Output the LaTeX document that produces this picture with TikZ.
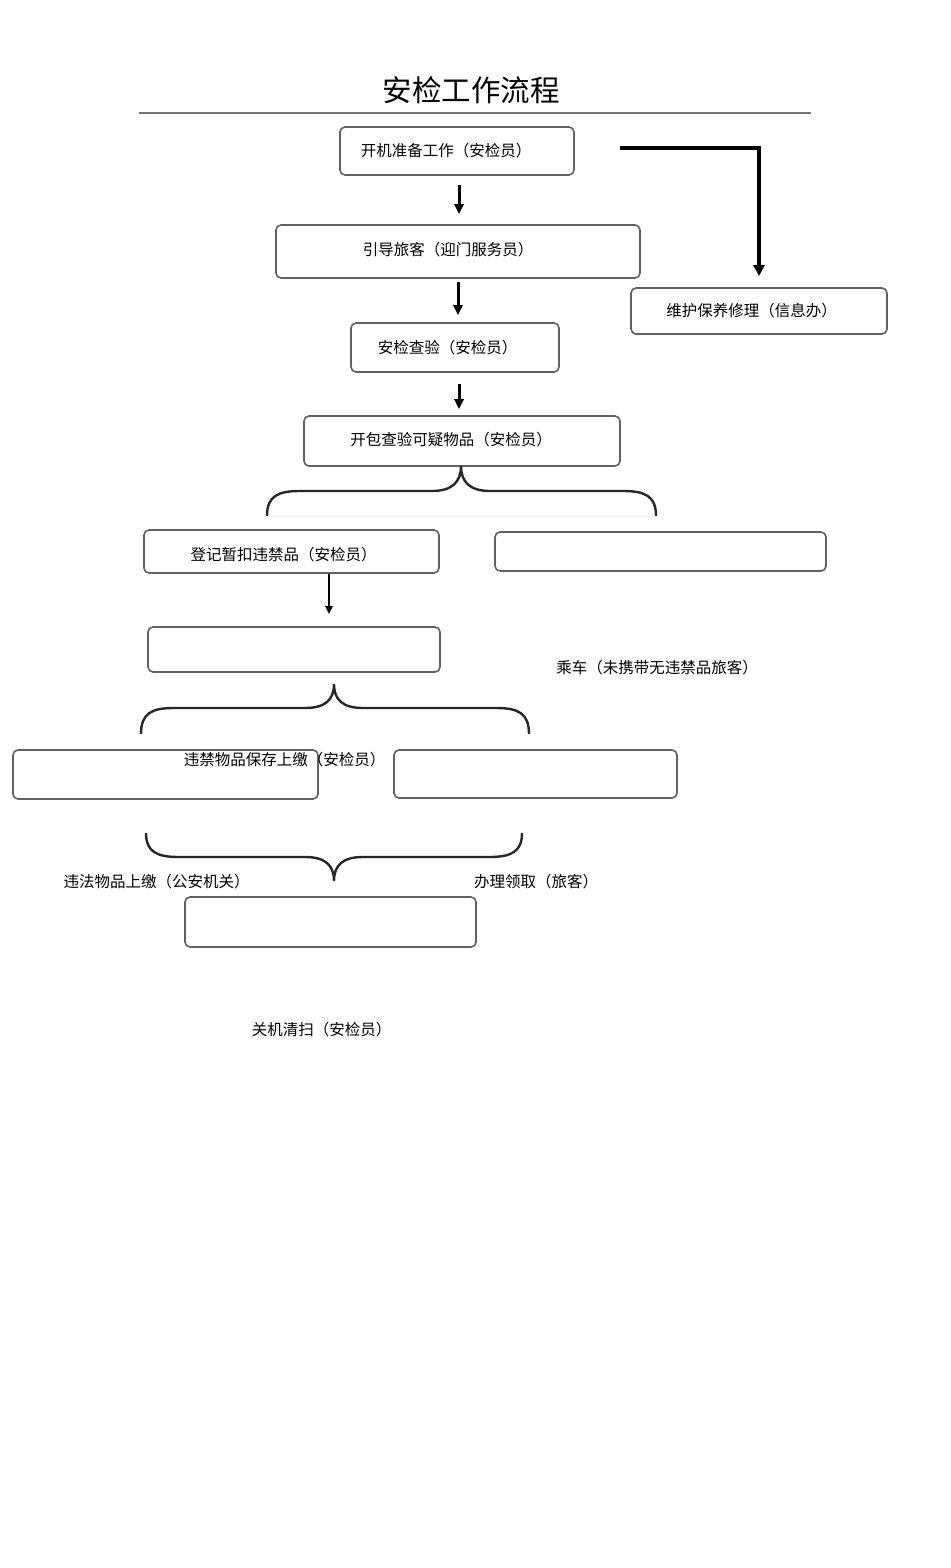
\documentclass[tikz,border=0pt]{standalone}
\usepackage{fontspec}
\setmainfont{Noto Sans CJK SC}
\usetikzlibrary{arrows.meta}
\begin{document}
\begin{tikzpicture}[x=1pt,y=-1pt,
  box/.style={draw=black!62, line width=1.6pt, rounded corners=5pt, inner sep=0pt},
  lbl/.style={font=\fontsize{15.5}{18}\selectfont, inner sep=0pt},
  arr/.style={-{Triangle[width=9pt,length=10pt]}, line width=3pt},
  brace/.style={line width=2.4pt, black!85}]
\useasboundingbox (0,0) rectangle (950,1568);

% title
\node[font=\fontsize{29.5}{34}\selectfont, inner sep=0pt] (title) at (471,90) {安检工作流程};
\draw[black!55, line width=1.5pt] (139,113) -- (811,113);

% boxes
\node[box, minimum width=234pt, minimum height=48pt] (b1) at (457,151) {};
\node[box, minimum width=364pt, minimum height=53pt] (b2) at (458,251.5) {};
\node[box, minimum width=208pt, minimum height=49pt] (b3) at (455,347.5) {};
\node[box, minimum width=316pt, minimum height=50pt] (b4) at (462,441) {};
\node[box, minimum width=295pt, minimum height=43pt] (b5) at (291.5,551.5) {};
\node[box, minimum width=331pt, minimum height=39pt] (b6) at (660.5,551.5) {};
\node[box, minimum width=292pt, minimum height=45pt] (b7) at (294,649.5) {};
\node[box, minimum width=305pt, minimum height=49pt] (b8) at (165.5,774.5) {};
\node[box, minimum width=283pt, minimum height=48pt] (b9) at (535.5,774) {};
\node[box, minimum width=291pt, minimum height=50pt] (b10) at (330.5,922) {};
\node[box, minimum width=256pt, minimum height=46pt] (bR) at (759,311) {};

% labels
\node[lbl] (t1) at (446,151) {开机准备工作（安检员）};
\node[lbl] (t2) at (448,250) {引导旅客（迎门服务员）};
\node[lbl] (t3) at (447.5,348) {安检查验（安检员）};
\node[lbl] (t4) at (451,440) {开包查验可疑物品（安检员）};
\node[lbl] (t5) at (283.5,555) {登记暂扣违禁品（安检员）};
\node[lbl] (tR) at (751.5,311) {维护保养修理（信息办）};
\node[lbl] (t6) at (657,668) {乘车（未携带无违禁品旅客）};
\node[lbl] (t7) at (284.5,760) {违禁物品保存上缴（安检员）};
\node[lbl] (t8) at (156.5,882) {违法物品上缴（公安机关）};
\node[lbl] (t9) at (536,882) {办理领取（旅客）};
\node[lbl] (t10) at (321.5,1030) {关机清扫（安检员）};

% arrows
\coordinate (ax1) at (459,0);
\coordinate (ax2) at (458,0);
\coordinate (ax4) at (329,0);
\draw[arr, shorten <=9pt, shorten >=10pt] (b1.south -| ax1) -- (b2.north -| ax1);
\draw[arr, shorten <=3pt, shorten >=7pt] (b2.south -| ax2) -- (b3.north -| ax2);
\draw[arr, shorten <=11pt, shorten >=6pt] (b3.south -| ax1) -- (b4.north -| ax1);
\draw[-{Triangle[width=7pt,length=8pt]}, line width=2pt, shorten >=12pt] (b5.south -| ax4) -- (b7.north -| ax4);
\coordinate (rs) at (620,148);
\coordinate (re) at (759,276);
\draw[-{Triangle[width=11pt,length=11pt]}, line width=3.5pt] (rs) -| (re);

% braces
\draw[brace] (267,516) .. controls (267,496) and (278,491) .. (300,491) -- (432,491)
  .. controls (452,491) and (461,482) .. (461,466)
  .. controls (461,482) and (470,491) .. (490,491) -- (623,491)
  .. controls (645,491) and (656,496) .. (656,516);
\draw[black!8, line width=1pt] (267,516) -- (656,516);
\draw[brace] (141,734) .. controls (141,713) and (152,708) .. (174,708) -- (305,708)
  .. controls (325,708) and (334,700) .. (334,684)
  .. controls (334,700) and (343,708) .. (363,708) -- (496,708)
  .. controls (518,708) and (529,713) .. (529,734);
\draw[brace] (146,833) .. controls (146,852) and (157,857) .. (179,857) -- (305,857)
  .. controls (325,857) and (334,865) .. (334,881)
  .. controls (334,865) and (343,857) .. (363,857) -- (489,857)
  .. controls (511,857) and (522,852) .. (522,833);
\end{tikzpicture}
\end{document}
